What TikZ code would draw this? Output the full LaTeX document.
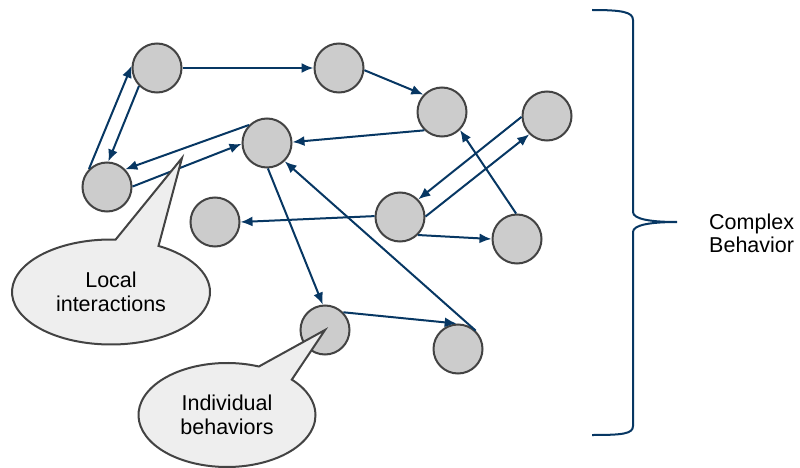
\documentclass[tikz,border=0pt]{standalone}
\usepackage{fontspec}
\setmainfont{Liberation Sans}
\usetikzlibrary{arrows.meta,shapes.geometric,shapes.callouts}
\definecolor{edgeblue}{HTML}{073763}
\definecolor{nodegray}{HTML}{CCCCCC}
\definecolor{rimgray}{HTML}{434343}
\definecolor{bubblegray}{HTML}{EEEEEE}
\begin{document}
\begin{tikzpicture}[x=1pt, y=-1pt, >={Latex[length=12pt,width=10pt]},
    agent/.style={circle, draw=rimgray, fill=nodegray, line width=2pt, minimum size=49pt, inner sep=0pt},
    link/.style={->, draw=edgeblue, line width=2pt},
    bubble/.style={ellipse callout, draw=rimgray, fill=bubblegray, line width=2pt, inner sep=0pt,
        align=center, callout pointer arc=26, font=\fontsize{21.5}{24}\selectfont}]
    \useasboundingbox (0,0) rectangle (800,468);

    \node[agent] (a1) at (157,68) {};
    \node[agent] (a2) at (339,68) {};
    \node[agent] (a3) at (442,112) {};
    \node[agent] (a4) at (547,116) {};
    \node[agent] (a5) at (267,143) {};
    \node[agent] (a6) at (107,187) {};
    \node[agent] (a7) at (215,222) {};
    \node[agent] (a8) at (400,217) {};
    \node[agent] (a9) at (517,239) {};
    \node[agent] (a10) at (325,330) {};
    \node[agent] (a11) at (458,349) {};

    \draw[link] (a1.0) -- (a2.180);
    \draw[link] (a2.-5) -- (a3.137);
    \draw[link] (a6.135) -- (a1.175);
    \draw[link] (a1.225) -- (a6.87);
    \draw[link] (a5.135) -- (a6.44);
    \draw[link] (a6.1) -- (a5.182);
    \draw[link] (a3.226) -- (a5.2);
    \draw[link] (a11.46) -- (a5.-46);
    \draw[link] (a5.-88) -- (a10.95);
    \draw[link] (a10.44) -- (a11.93);
    \draw[link] (a8.178) -- (a7.0);
    \draw[link] (a8.-45) -- (a9.180);
    \draw[link] (a9.92) -- (a3.-45);
    \draw[link] (a4.182) -- (a8.44);
    \draw[link] (a8.1) -- (a4.226);

    \coordinate (tipL) at (182,158);
    \node[bubble, minimum width=198pt, minimum height=105pt, callout absolute pointer=(tipL)] (local) at (111,292) {Local\\interactions};
    \node[bubble, minimum width=177pt, minimum height=104pt, callout absolute pointer=(a10.center)] (indiv) at (227,415) {Individual\\behaviors};

    \draw[edgeblue, line width=2pt] (592,10) .. controls (622,10) and (633,12) .. (633,20) -- (633,212)
        .. controls (633,219) and (650,222) .. (677,222) .. controls (650,222) and (633,225) .. (633,232)
        -- (633,426) .. controls (633,434) and (622,435) .. (592,435);
    \node[anchor=west, align=left, inner sep=0pt, font=\fontsize{21.5}{23}\selectfont] (cplx) at (709,233) {Complex\\Behavior};
\end{tikzpicture}
\end{document}
